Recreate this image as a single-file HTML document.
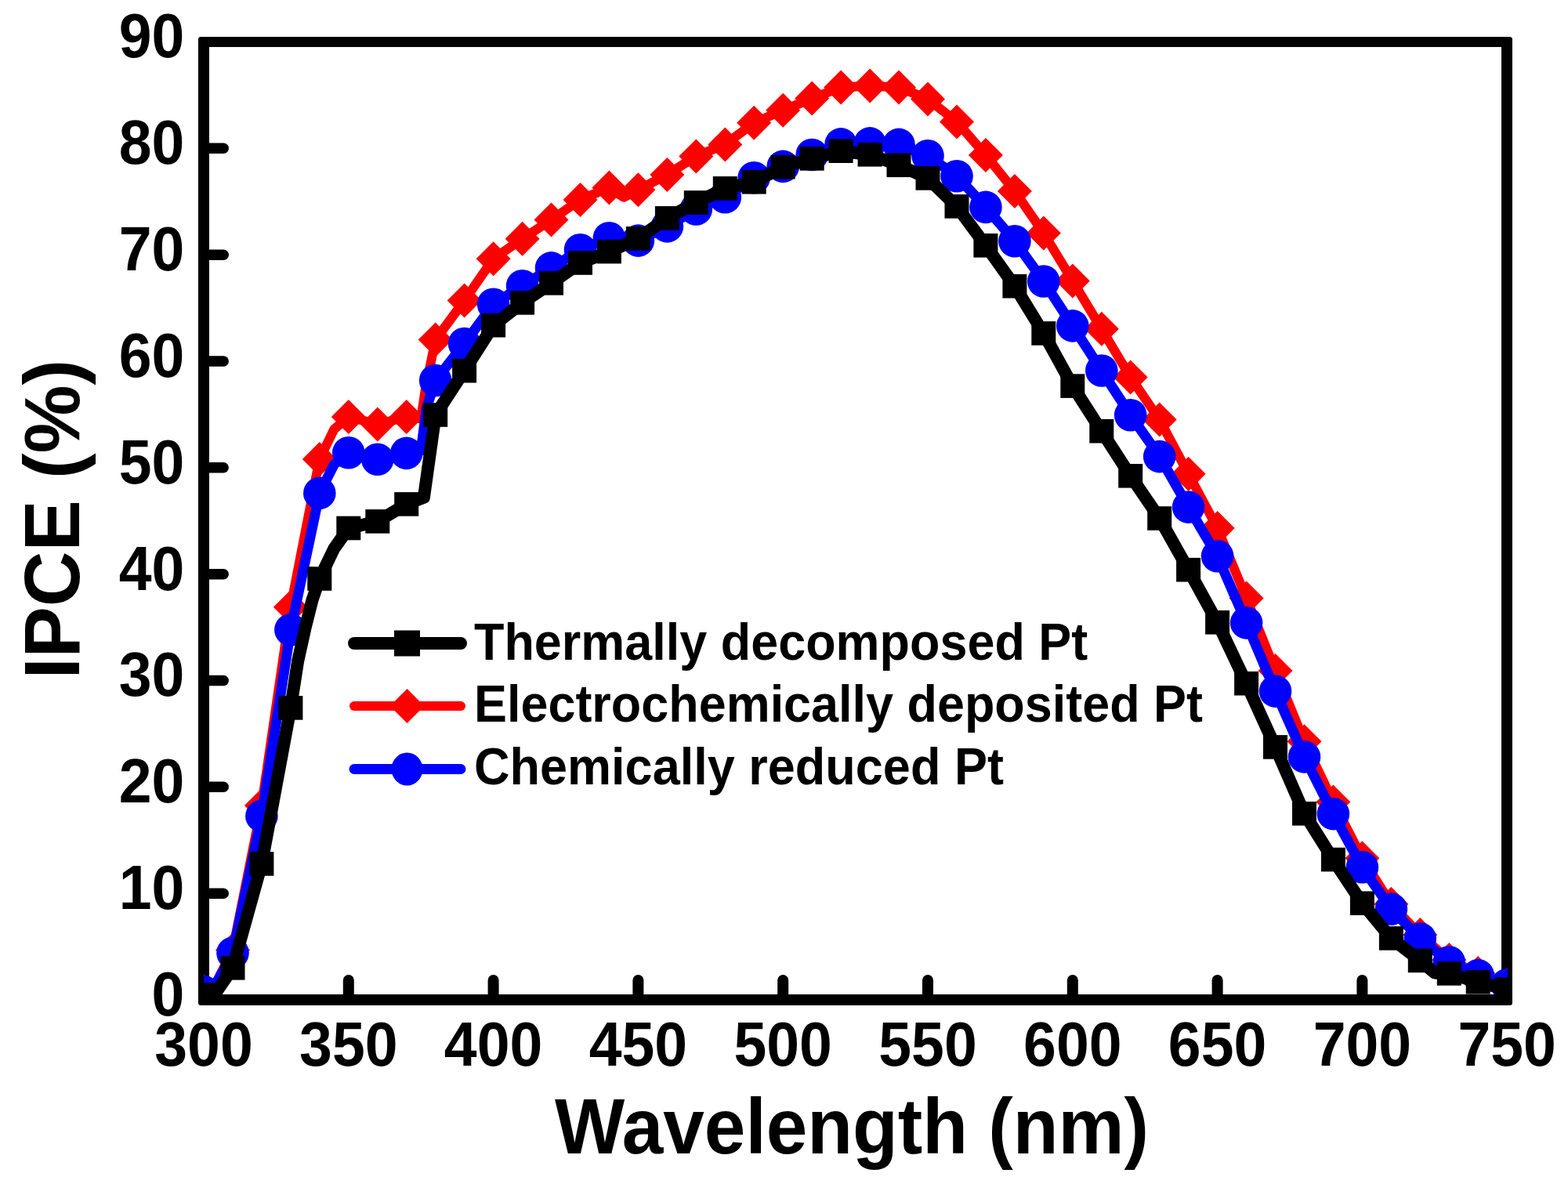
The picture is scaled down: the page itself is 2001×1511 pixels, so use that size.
<!DOCTYPE html><html><head><meta charset="utf-8"><style>html,body{margin:0;padding:0;background:#fff;}svg{display:block;}text{font-family:"Liberation Sans",Arial,sans-serif;font-weight:bold;fill:#000;}</style></head><body>
<svg width="2001" height="1511" viewBox="0 0 2001 1511">
<rect width="2001" height="1511" fill="#fff"/>
<rect x="253" y="47" width="1677" height="1236" rx="3.5" fill="#000"/>
<rect x="267" y="60" width="1649" height="1209" fill="#fff"/>
<g stroke="#000" stroke-linecap="round" fill="none">
<line x1="444.8" y1="1270" x2="444.8" y2="1250.9" stroke-width="14.0"/>
<line x1="629.6" y1="1270" x2="629.6" y2="1250.9" stroke-width="14.0"/>
<line x1="814.4" y1="1270" x2="814.4" y2="1250.9" stroke-width="14.0"/>
<line x1="999.2" y1="1270" x2="999.2" y2="1250.9" stroke-width="14.0"/>
<line x1="1184.0" y1="1270" x2="1184.0" y2="1250.9" stroke-width="14.0"/>
<line x1="1368.8" y1="1270" x2="1368.8" y2="1250.9" stroke-width="14.0"/>
<line x1="1553.6" y1="1270" x2="1553.6" y2="1250.9" stroke-width="14.0"/>
<line x1="1738.4" y1="1270" x2="1738.4" y2="1250.9" stroke-width="14.0"/>
<line x1="266" y1="1140.2" x2="285.2" y2="1140.2" stroke-width="13.5"/>
<line x1="266" y1="1004.3" x2="285.2" y2="1004.3" stroke-width="13.5"/>
<line x1="266" y1="868.5" x2="285.2" y2="868.5" stroke-width="13.5"/>
<line x1="266" y1="732.7" x2="285.2" y2="732.7" stroke-width="13.5"/>
<line x1="266" y1="596.8" x2="285.2" y2="596.8" stroke-width="13.5"/>
<line x1="266" y1="461.0" x2="285.2" y2="461.0" stroke-width="13.5"/>
<line x1="266" y1="325.2" x2="285.2" y2="325.2" stroke-width="13.5"/>
<line x1="266" y1="189.3" x2="285.2" y2="189.3" stroke-width="13.5"/>
</g>
<defs><clipPath id="pc"><rect x="260.0" y="53.5" width="1664.0" height="1222.5"/></clipPath></defs>
<g clip-path="url(#pc)">
<polyline points="260.0,1265.5 271.1,1263.8 297.0,1212.2 333.9,1028.0 370.9,774.8 407.8,586.0 426.3,547.9 444.8,532.0 481.8,541.4 518.7,532.0 537.2,534.4 542.7,497.7 555.7,433.6 592.6,383.6 629.6,330.2 666.6,304.8 703.5,280.6 740.5,254.9 777.4,239.5 795.9,251.8 814.4,242.3 851.4,222.9 888.3,199.4 925.3,184.4 962.2,156.7 999.2,140.8 1036.2,125.6 1073.1,111.4 1110.1,109.6 1147.0,111.4 1184.0,126.4 1221.0,155.5 1257.9,197.9 1294.9,243.9 1331.8,297.5 1368.8,358.4 1405.8,419.8 1442.7,481.5 1479.7,535.6 1516.6,604.8 1553.6,674.0 1590.6,763.5 1627.5,856.0 1664.5,946.2 1701.4,1023.5 1738.4,1095.2 1775.4,1153.8 1812.3,1193.0 1849.3,1225.1 1886.2,1242.0 1923.2,1257.0" fill="none" stroke="#f00" stroke-width="12.0" stroke-linejoin="round" stroke-linecap="round"/>
<path d="M260.0 1243.5L282.0 1265.5L260.0 1287.5L238.0 1265.5Z" fill="#f00"/>
<path d="M297.0 1190.2L319.0 1212.2L297.0 1234.2L275.0 1212.2Z" fill="#f00"/>
<path d="M333.9 1006.0L355.9 1028.0L333.9 1050.0L311.9 1028.0Z" fill="#f00"/>
<path d="M370.9 752.8L392.9 774.8L370.9 796.8L348.9 774.8Z" fill="#f00"/>
<path d="M407.8 564.0L429.8 586.0L407.8 608.0L385.8 586.0Z" fill="#f00"/>
<path d="M444.8 510.0L466.8 532.0L444.8 554.0L422.8 532.0Z" fill="#f00"/>
<path d="M481.8 519.4L503.8 541.4L481.8 563.4L459.8 541.4Z" fill="#f00"/>
<path d="M518.7 510.0L540.7 532.0L518.7 554.0L496.7 532.0Z" fill="#f00"/>
<path d="M555.7 411.6L577.7 433.6L555.7 455.6L533.7 433.6Z" fill="#f00"/>
<path d="M592.6 361.6L614.6 383.6L592.6 405.6L570.6 383.6Z" fill="#f00"/>
<path d="M629.6 308.2L651.6 330.2L629.6 352.2L607.6 330.2Z" fill="#f00"/>
<path d="M666.6 282.8L688.6 304.8L666.6 326.8L644.6 304.8Z" fill="#f00"/>
<path d="M703.5 258.6L725.5 280.6L703.5 302.6L681.5 280.6Z" fill="#f00"/>
<path d="M740.5 232.9L762.5 254.9L740.5 276.9L718.5 254.9Z" fill="#f00"/>
<path d="M777.4 217.5L799.4 239.5L777.4 261.5L755.4 239.5Z" fill="#f00"/>
<path d="M814.4 220.3L836.4 242.3L814.4 264.3L792.4 242.3Z" fill="#f00"/>
<path d="M851.4 200.9L873.4 222.9L851.4 244.9L829.4 222.9Z" fill="#f00"/>
<path d="M888.3 177.4L910.3 199.4L888.3 221.4L866.3 199.4Z" fill="#f00"/>
<path d="M925.3 162.4L947.3 184.4L925.3 206.4L903.3 184.4Z" fill="#f00"/>
<path d="M962.2 134.7L984.2 156.7L962.2 178.7L940.2 156.7Z" fill="#f00"/>
<path d="M999.2 118.8L1021.2 140.8L999.2 162.8L977.2 140.8Z" fill="#f00"/>
<path d="M1036.2 103.6L1058.2 125.6L1036.2 147.6L1014.2 125.6Z" fill="#f00"/>
<path d="M1073.1 89.4L1095.1 111.4L1073.1 133.4L1051.1 111.4Z" fill="#f00"/>
<path d="M1110.1 87.6L1132.1 109.6L1110.1 131.6L1088.1 109.6Z" fill="#f00"/>
<path d="M1147.0 89.4L1169.0 111.4L1147.0 133.4L1125.0 111.4Z" fill="#f00"/>
<path d="M1184.0 104.4L1206.0 126.4L1184.0 148.4L1162.0 126.4Z" fill="#f00"/>
<path d="M1221.0 133.5L1243.0 155.5L1221.0 177.5L1199.0 155.5Z" fill="#f00"/>
<path d="M1257.9 175.9L1279.9 197.9L1257.9 219.9L1235.9 197.9Z" fill="#f00"/>
<path d="M1294.9 221.9L1316.9 243.9L1294.9 265.9L1272.9 243.9Z" fill="#f00"/>
<path d="M1331.8 275.5L1353.8 297.5L1331.8 319.5L1309.8 297.5Z" fill="#f00"/>
<path d="M1368.8 336.4L1390.8 358.4L1368.8 380.4L1346.8 358.4Z" fill="#f00"/>
<path d="M1405.8 397.8L1427.8 419.8L1405.8 441.8L1383.8 419.8Z" fill="#f00"/>
<path d="M1442.7 459.5L1464.7 481.5L1442.7 503.5L1420.7 481.5Z" fill="#f00"/>
<path d="M1479.7 513.6L1501.7 535.6L1479.7 557.6L1457.7 535.6Z" fill="#f00"/>
<path d="M1516.6 582.8L1538.6 604.8L1516.6 626.8L1494.6 604.8Z" fill="#f00"/>
<path d="M1553.6 652.0L1575.6 674.0L1553.6 696.0L1531.6 674.0Z" fill="#f00"/>
<path d="M1590.6 741.5L1612.6 763.5L1590.6 785.5L1568.6 763.5Z" fill="#f00"/>
<path d="M1627.5 834.0L1649.5 856.0L1627.5 878.0L1605.5 856.0Z" fill="#f00"/>
<path d="M1664.5 924.2L1686.5 946.2L1664.5 968.2L1642.5 946.2Z" fill="#f00"/>
<path d="M1701.4 1001.5L1723.4 1023.5L1701.4 1045.5L1679.4 1023.5Z" fill="#f00"/>
<path d="M1738.4 1073.2L1760.4 1095.2L1738.4 1117.2L1716.4 1095.2Z" fill="#f00"/>
<path d="M1775.4 1131.8L1797.4 1153.8L1775.4 1175.8L1753.4 1153.8Z" fill="#f00"/>
<path d="M1812.3 1171.0L1834.3 1193.0L1812.3 1215.0L1790.3 1193.0Z" fill="#f00"/>
<path d="M1849.3 1203.1L1871.3 1225.1L1849.3 1247.1L1827.3 1225.1Z" fill="#f00"/>
<path d="M1886.2 1220.0L1908.2 1242.0L1886.2 1264.0L1864.2 1242.0Z" fill="#f00"/>
<path d="M1923.2 1235.0L1945.2 1257.0L1923.2 1279.0L1901.2 1257.0Z" fill="#f00"/>
<polyline points="260.0,1265.5 271.1,1263.8 297.0,1216.2 333.9,1041.4 370.9,803.8 407.8,629.4 426.3,592.8 444.8,577.8 481.8,586.2 518.7,578.4 537.2,575.1 544.6,519.4 555.7,485.5 592.6,438.5 629.6,388.3 666.6,364.8 703.5,341.9 740.5,318.8 777.4,303.8 814.4,307.1 851.4,288.9 888.3,267.0 925.3,251.8 962.2,226.8 999.2,212.4 1036.2,197.5 1073.1,183.9 1110.1,182.9 1147.0,184.4 1184.0,198.7 1221.0,224.7 1257.9,264.4 1294.9,307.8 1331.8,359.0 1368.8,415.9 1405.8,473.0 1442.7,529.7 1479.7,582.6 1516.6,647.1 1553.6,709.7 1590.6,794.9 1627.5,882.1 1664.5,965.9 1701.4,1038.6 1738.4,1106.8 1775.4,1160.1 1812.3,1198.0 1849.3,1227.8 1886.2,1244.6 1923.2,1256.8" fill="none" stroke="#00f" stroke-width="13.0" stroke-linejoin="round" stroke-linecap="round"/>
<ellipse cx="260.0" cy="1265.5" rx="20.8" ry="20.8" fill="#00f"/>
<ellipse cx="297.0" cy="1216.2" rx="20.8" ry="20.8" fill="#00f"/>
<ellipse cx="333.9" cy="1041.4" rx="20.8" ry="20.8" fill="#00f"/>
<ellipse cx="370.9" cy="803.8" rx="20.8" ry="20.8" fill="#00f"/>
<ellipse cx="407.8" cy="629.4" rx="20.8" ry="20.8" fill="#00f"/>
<ellipse cx="444.8" cy="577.8" rx="20.8" ry="20.8" fill="#00f"/>
<ellipse cx="481.8" cy="586.2" rx="20.8" ry="20.8" fill="#00f"/>
<ellipse cx="518.7" cy="578.4" rx="20.8" ry="20.8" fill="#00f"/>
<ellipse cx="555.7" cy="485.5" rx="20.8" ry="20.8" fill="#00f"/>
<ellipse cx="592.6" cy="438.5" rx="20.8" ry="20.8" fill="#00f"/>
<ellipse cx="629.6" cy="388.3" rx="20.8" ry="20.8" fill="#00f"/>
<ellipse cx="666.6" cy="364.8" rx="20.8" ry="20.8" fill="#00f"/>
<ellipse cx="703.5" cy="341.9" rx="20.8" ry="20.8" fill="#00f"/>
<ellipse cx="740.5" cy="318.8" rx="20.8" ry="20.8" fill="#00f"/>
<ellipse cx="777.4" cy="303.8" rx="20.8" ry="20.8" fill="#00f"/>
<ellipse cx="814.4" cy="307.1" rx="20.8" ry="20.8" fill="#00f"/>
<ellipse cx="851.4" cy="288.9" rx="20.8" ry="20.8" fill="#00f"/>
<ellipse cx="888.3" cy="267.0" rx="20.8" ry="20.8" fill="#00f"/>
<ellipse cx="925.3" cy="251.8" rx="20.8" ry="20.8" fill="#00f"/>
<ellipse cx="962.2" cy="226.8" rx="20.8" ry="20.8" fill="#00f"/>
<ellipse cx="999.2" cy="212.4" rx="20.8" ry="20.8" fill="#00f"/>
<ellipse cx="1036.2" cy="197.5" rx="20.8" ry="20.8" fill="#00f"/>
<ellipse cx="1073.1" cy="183.9" rx="20.8" ry="20.8" fill="#00f"/>
<ellipse cx="1110.1" cy="182.9" rx="20.8" ry="20.8" fill="#00f"/>
<ellipse cx="1147.0" cy="184.4" rx="20.8" ry="20.8" fill="#00f"/>
<ellipse cx="1184.0" cy="198.7" rx="20.8" ry="20.8" fill="#00f"/>
<ellipse cx="1221.0" cy="224.7" rx="20.8" ry="20.8" fill="#00f"/>
<ellipse cx="1257.9" cy="264.4" rx="20.8" ry="20.8" fill="#00f"/>
<ellipse cx="1294.9" cy="307.8" rx="20.8" ry="20.8" fill="#00f"/>
<ellipse cx="1331.8" cy="359.0" rx="20.8" ry="20.8" fill="#00f"/>
<ellipse cx="1368.8" cy="415.9" rx="20.8" ry="20.8" fill="#00f"/>
<ellipse cx="1405.8" cy="473.0" rx="20.8" ry="20.8" fill="#00f"/>
<ellipse cx="1442.7" cy="529.7" rx="20.8" ry="20.8" fill="#00f"/>
<ellipse cx="1479.7" cy="582.6" rx="20.8" ry="20.8" fill="#00f"/>
<ellipse cx="1516.6" cy="647.1" rx="20.8" ry="20.8" fill="#00f"/>
<ellipse cx="1553.6" cy="709.7" rx="20.8" ry="20.8" fill="#00f"/>
<ellipse cx="1590.6" cy="794.9" rx="20.8" ry="20.8" fill="#00f"/>
<ellipse cx="1627.5" cy="882.1" rx="20.8" ry="20.8" fill="#00f"/>
<ellipse cx="1664.5" cy="965.9" rx="20.8" ry="20.8" fill="#00f"/>
<ellipse cx="1701.4" cy="1038.6" rx="20.8" ry="20.8" fill="#00f"/>
<ellipse cx="1738.4" cy="1106.8" rx="20.8" ry="20.8" fill="#00f"/>
<ellipse cx="1775.4" cy="1160.1" rx="20.8" ry="20.8" fill="#00f"/>
<ellipse cx="1812.3" cy="1198.0" rx="20.8" ry="20.8" fill="#00f"/>
<ellipse cx="1849.3" cy="1227.8" rx="20.8" ry="20.8" fill="#00f"/>
<ellipse cx="1886.2" cy="1244.6" rx="20.8" ry="20.8" fill="#00f"/>
<ellipse cx="1923.2" cy="1256.8" rx="20.8" ry="20.8" fill="#00f"/>
<polyline points="260.0,1269.5 269.2,1276.0 297.0,1235.2 333.9,1102.4 370.9,903.4 380.1,844.0 389.4,801.9 398.6,765.3 407.8,738.5 426.3,700.1 444.8,674.0 481.8,665.4 518.7,643.4 540.9,634.9 555.7,529.5 592.6,473.2 629.6,415.2 666.6,386.4 703.5,361.4 740.5,335.5 777.4,321.1 814.4,304.4 851.4,278.4 888.3,258.5 925.3,240.4 962.2,232.3 999.2,213.2 1036.2,202.4 1073.1,192.7 1110.1,197.3 1147.0,210.8 1184.0,227.4 1221.0,263.4 1257.9,313.3 1294.9,365.2 1331.8,425.4 1368.8,492.6 1405.8,550.2 1442.7,607.3 1479.7,661.5 1516.6,727.2 1553.6,794.3 1590.6,872.2 1627.5,953.4 1664.5,1038.3 1701.4,1097.0 1738.4,1152.7 1775.4,1197.4 1812.3,1225.9 1830.8,1241.4 1849.3,1242.4 1886.2,1253.3 1923.2,1262.7" fill="none" stroke="#000" stroke-width="16.0" stroke-linejoin="round" stroke-linecap="round"/>
<rect x="244.5" y="1254.2" width="31.0" height="30.6" fill="#000"/>
<rect x="281.5" y="1220.0" width="31.0" height="30.6" fill="#000"/>
<rect x="318.4" y="1087.1" width="31.0" height="30.6" fill="#000"/>
<rect x="355.4" y="888.1" width="31.0" height="30.6" fill="#000"/>
<rect x="392.3" y="723.2" width="31.0" height="30.6" fill="#000"/>
<rect x="429.3" y="658.7" width="31.0" height="30.6" fill="#000"/>
<rect x="466.3" y="650.1" width="31.0" height="30.6" fill="#000"/>
<rect x="503.2" y="628.1" width="31.0" height="30.6" fill="#000"/>
<rect x="540.2" y="514.2" width="31.0" height="30.6" fill="#000"/>
<rect x="577.1" y="457.9" width="31.0" height="30.6" fill="#000"/>
<rect x="614.1" y="399.9" width="31.0" height="30.6" fill="#000"/>
<rect x="651.1" y="371.1" width="31.0" height="30.6" fill="#000"/>
<rect x="688.0" y="346.1" width="31.0" height="30.6" fill="#000"/>
<rect x="725.0" y="320.2" width="31.0" height="30.6" fill="#000"/>
<rect x="761.9" y="305.8" width="31.0" height="30.6" fill="#000"/>
<rect x="798.9" y="289.1" width="31.0" height="30.6" fill="#000"/>
<rect x="835.9" y="263.1" width="31.0" height="30.6" fill="#000"/>
<rect x="872.8" y="243.2" width="31.0" height="30.6" fill="#000"/>
<rect x="909.8" y="225.1" width="31.0" height="30.6" fill="#000"/>
<rect x="946.7" y="217.0" width="31.0" height="30.6" fill="#000"/>
<rect x="983.7" y="197.9" width="31.0" height="30.6" fill="#000"/>
<rect x="1020.7" y="187.1" width="31.0" height="30.6" fill="#000"/>
<rect x="1057.6" y="177.4" width="31.0" height="30.6" fill="#000"/>
<rect x="1094.6" y="182.0" width="31.0" height="30.6" fill="#000"/>
<rect x="1131.5" y="195.5" width="31.0" height="30.6" fill="#000"/>
<rect x="1168.5" y="212.1" width="31.0" height="30.6" fill="#000"/>
<rect x="1205.5" y="248.1" width="31.0" height="30.6" fill="#000"/>
<rect x="1242.4" y="298.0" width="31.0" height="30.6" fill="#000"/>
<rect x="1279.4" y="349.9" width="31.0" height="30.6" fill="#000"/>
<rect x="1316.3" y="410.1" width="31.0" height="30.6" fill="#000"/>
<rect x="1353.3" y="477.3" width="31.0" height="30.6" fill="#000"/>
<rect x="1390.3" y="534.9" width="31.0" height="30.6" fill="#000"/>
<rect x="1427.2" y="592.0" width="31.0" height="30.6" fill="#000"/>
<rect x="1464.2" y="646.2" width="31.0" height="30.6" fill="#000"/>
<rect x="1501.1" y="711.9" width="31.0" height="30.6" fill="#000"/>
<rect x="1538.1" y="779.0" width="31.0" height="30.6" fill="#000"/>
<rect x="1575.1" y="856.9" width="31.0" height="30.6" fill="#000"/>
<rect x="1612.0" y="938.1" width="31.0" height="30.6" fill="#000"/>
<rect x="1649.0" y="1023.0" width="31.0" height="30.6" fill="#000"/>
<rect x="1685.9" y="1081.7" width="31.0" height="30.6" fill="#000"/>
<rect x="1722.9" y="1137.4" width="31.0" height="30.6" fill="#000"/>
<rect x="1759.9" y="1182.1" width="31.0" height="30.6" fill="#000"/>
<rect x="1796.8" y="1210.6" width="31.0" height="30.6" fill="#000"/>
<rect x="1833.8" y="1227.1" width="31.0" height="30.6" fill="#000"/>
<rect x="1870.7" y="1238.0" width="31.0" height="30.6" fill="#000"/>
<rect x="1907.7" y="1247.4" width="31.0" height="30.6" fill="#000"/>
</g>
<text transform="translate(260.0,1360.1) scale(0.9460,1)" font-size="79.5" text-anchor="middle">300</text>
<text transform="translate(444.8,1360.1) scale(0.9460,1)" font-size="79.5" text-anchor="middle">350</text>
<text transform="translate(629.6,1360.1) scale(0.9460,1)" font-size="79.5" text-anchor="middle">400</text>
<text transform="translate(814.4,1360.1) scale(0.9460,1)" font-size="79.5" text-anchor="middle">450</text>
<text transform="translate(999.2,1360.1) scale(0.9460,1)" font-size="79.5" text-anchor="middle">500</text>
<text transform="translate(1184.0,1360.1) scale(0.9460,1)" font-size="79.5" text-anchor="middle">550</text>
<text transform="translate(1368.8,1360.1) scale(0.9460,1)" font-size="79.5" text-anchor="middle">600</text>
<text transform="translate(1553.6,1360.1) scale(0.9460,1)" font-size="79.5" text-anchor="middle">650</text>
<text transform="translate(1738.4,1360.1) scale(0.9460,1)" font-size="79.5" text-anchor="middle">700</text>
<text transform="translate(1923.2,1360.1) scale(0.9460,1)" font-size="79.5" text-anchor="middle">750</text>
<text transform="translate(235.3,1295.9) scale(0.9460,1)" font-size="79.5" text-anchor="end">0</text>
<text transform="translate(235.3,1160.1) scale(0.9460,1)" font-size="79.5" text-anchor="end">10</text>
<text transform="translate(235.3,1024.2) scale(0.9460,1)" font-size="79.5" text-anchor="end">20</text>
<text transform="translate(235.3,888.4) scale(0.9460,1)" font-size="79.5" text-anchor="end">30</text>
<text transform="translate(235.3,752.6) scale(0.9460,1)" font-size="79.5" text-anchor="end">40</text>
<text transform="translate(235.3,616.7) scale(0.9460,1)" font-size="79.5" text-anchor="end">50</text>
<text transform="translate(235.3,480.9) scale(0.9460,1)" font-size="79.5" text-anchor="end">60</text>
<text transform="translate(235.3,345.1) scale(0.9460,1)" font-size="79.5" text-anchor="end">70</text>
<text transform="translate(235.3,209.2) scale(0.9460,1)" font-size="79.5" text-anchor="end">80</text>
<text transform="translate(235.3,73.4) scale(0.9460,1)" font-size="79.5" text-anchor="end">90</text>
<text transform="translate(708.0,1472.1) scale(0.9454,1)" font-size="100.0" text-anchor="start">Wavelength (nm)</text>
<text transform="translate(101.0,866.6) rotate(-90) scale(0.9785,1)" font-size="100.0" text-anchor="start">IPCE (%)</text>
<line x1="452.0" y1="821.0" x2="588.0" y2="821.0" stroke="#000" stroke-width="16.0" stroke-linecap="round"/>
<rect x="503.0" y="804.5" width="33.0" height="33.0" fill="#000"/>
<text transform="translate(605.0,842.0) scale(0.9536,1)" font-size="66.0" text-anchor="start">Thermally decomposed Pt</text>
<line x1="452.0" y1="901.0" x2="588.0" y2="901.0" stroke="#f00" stroke-width="12.0" stroke-linecap="round"/>
<path d="M519.5 879.0L541.5 901.0L519.5 923.0L497.5 901.0Z" fill="#f00"/>
<text transform="translate(605.0,920.9) scale(0.9534,1)" font-size="66.0" text-anchor="start">Electrochemically deposited Pt</text>
<line x1="452.0" y1="981.5" x2="588.0" y2="981.5" stroke="#00f" stroke-width="13.0" stroke-linecap="round"/>
<ellipse cx="519.5" cy="981.5" rx="20.0" ry="21.0" fill="#00f"/>
<text transform="translate(605.0,1000.9) scale(0.9551,1)" font-size="66.0" text-anchor="start">Chemically reduced Pt</text>
</svg></body></html>
